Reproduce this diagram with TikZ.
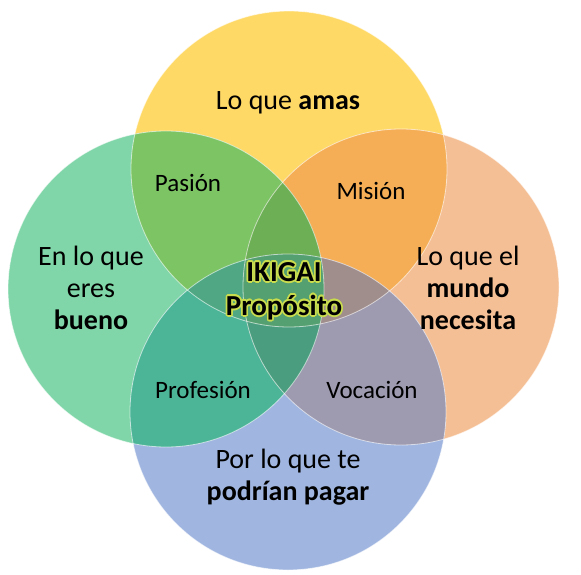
\documentclass[tikz,border=0pt]{standalone}
\usepackage{fontspec}
\setmainfont{Carlito}
\usepackage{contour}
\contourlength{1.6pt}
\definecolor{amarc}{HTML}{FFD966}
\definecolor{buenoc}{HTML}{80D6A8}
\definecolor{mundoc}{HTML}{F5BF95}
\definecolor{pagarc}{HTML}{A0B6E0}
\definecolor{pasionc}{HTML}{7DC465}
\definecolor{misionc}{HTML}{F5AE55}
\definecolor{profesionc}{HTML}{4CB597}
\definecolor{vocacionc}{HTML}{9E9AB0}
\definecolor{ygoc}{HTML}{6DAF55}
\definecolor{ygbc}{HTML}{4FA883}
\definecolor{yobc}{HTML}{A08E8C}
\definecolor{gobc}{HTML}{4A9E7F}
\definecolor{allc}{HTML}{55A070}
\definecolor{glowc}{HTML}{C9DC4E}
\tikzset{
	main/.style={align=center,font=\fontsize{28}{32}\selectfont,inner sep=0pt},
	sub/.style={font=\fontsize{25}{30}\selectfont,inner sep=0pt},
	rim/.style={draw=white,draw opacity=0.6,line width=0.8pt}
}
\newcommand{\rr}{158}
\begin{document}
\begin{tikzpicture}[x=1pt,y=-1pt]
				\useasboundingbox(0,0)rectangle(581,575);
				\coordinate(Y)at(289,169);
				\coordinate(G)at(166,289);
				\coordinate(O)at(401,287);
				\coordinate(B)at(288,412);
				\fill[amarc](Y)circle(\rr);
				\fill[buenoc](G)circle(\rr);
				\fill[mundoc](O)circle(\rr);
				\fill[pagarc](B)circle(\rr);
				\begin{scope}\clip(Y)circle(\rr);\fill[pasionc](G)circle(\rr);\fill[misionc](O)circle(\rr);\end{scope}
				\begin{scope}\clip(B)circle(\rr);\fill[profesionc](G)circle(\rr);\fill[vocacionc](O)circle(\rr);\end{scope}
				\begin{scope}\clip(G)circle(\rr);\fill[allc](O)circle(\rr);\end{scope}
				\begin{scope}\clip(Y)circle(\rr);\clip(G)circle(\rr);\fill[ygoc](O)circle(\rr);\fill[ygbc](B)circle(\rr);\end{scope}
				\begin{scope}\clip(Y)circle(\rr);\clip(O)circle(\rr);\fill[yobc](B)circle(\rr);\end{scope}
				\begin{scope}\clip(B)circle(\rr);\clip(G)circle(\rr);\fill[gobc](O)circle(\rr);\end{scope}
				\begin{scope}\clip(Y)circle(\rr);\clip(B)circle(\rr);\clip(G)circle(\rr);\fill[allc](O)circle(\rr);\end{scope}
				\foreach \c in {Y,G,O,B}\draw[rim](\c)circle(\rr);
				\node[main](amas)at(288,103){Lo que \textbf{amas}};
				\node[main](bueno)at(91,288){En lo que\\eres\\\textbf{bueno}};
				\node[main](mundo)at(468,288){Lo que el\\\textbf{mundo}\\\textbf{necesita}};
				\node[main](pagar)at(288,477){Por lo que te\\\textbf{podrían pagar}};
				\node[sub](pasion)at(188,183){Pasión};
				\node[sub](mision)at(371,191){Misión};
				\node[sub](profesion)at(203,390){Profesión};
				\node[sub](vocacion)at(372,390){Vocación};
				\node[align=center,inner sep=0pt,font=\fontsize{29}{34}\selectfont\bfseries](ikigai)at(284,292){\contour{glowc}{IKIGAI}\\\contour{glowc}{Propósito}};
				\end{tikzpicture}
\end{document}
